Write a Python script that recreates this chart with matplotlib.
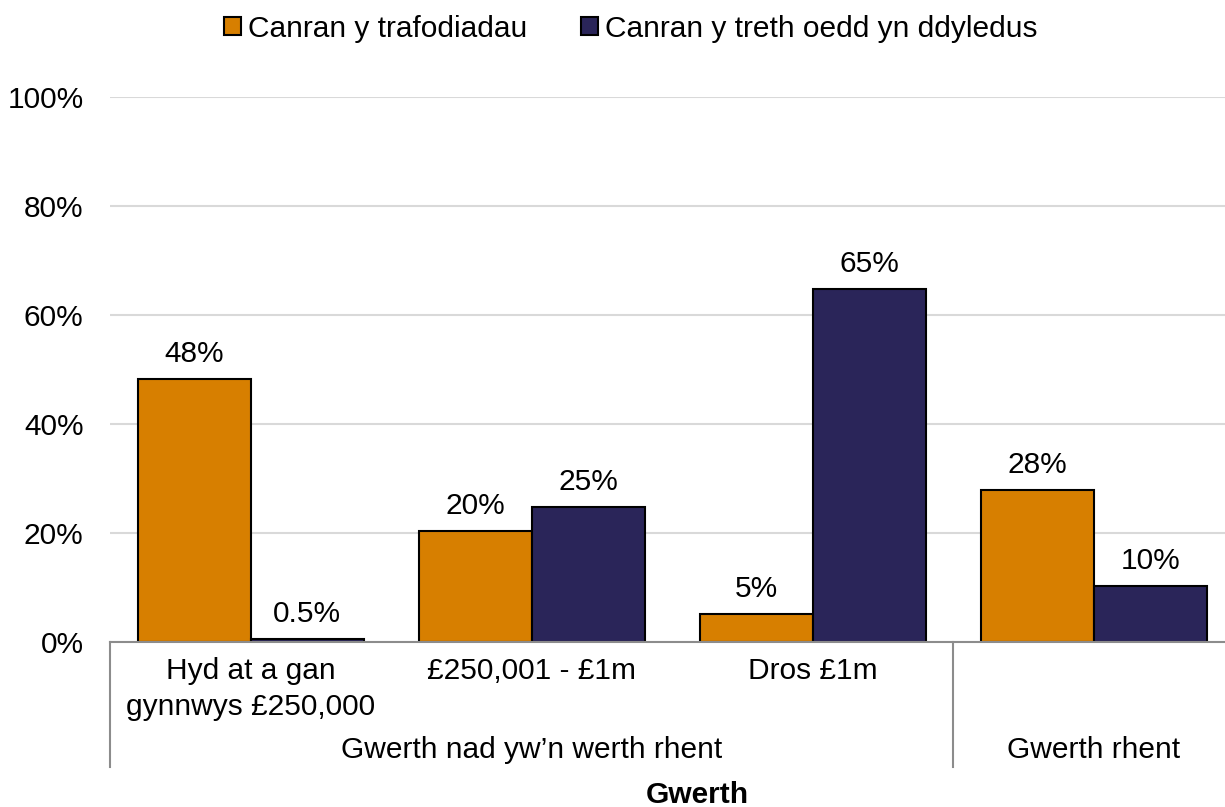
import matplotlib.pyplot as plt
import matplotlib.transforms as mtransforms
import numpy as np

plt.rcParams['font.family'] = ['Liberation Sans', 'DejaVu Sans']

# data
categories = ["Hyd at a gan\ngynnwys £250,000", "£250,001 - £1m", "Dros £1m", ""]
groups = ["Gwerth nad yw\u2019n werth rhent", "Gwerth rhent"]
trans_pct = [48.3, 20.3, 5.2, 27.9]
tax_pct = [0.5, 24.7, 64.8, 10.2]
trans_labels = ["48%", "20%", "5%", "28%"]
tax_labels = ["0.5%", "25%", "65%", "10%"]
series_names = ["Canran y trafodiadau", "Canran y treth oedd yn ddyledus"]

orange = "#D77F00"
navy = "#2A2559"
fs = 21.5

W, H = 1225, 807
fig = plt.figure(figsize=(W / 100, H / 100), dpi=100)
ax = fig.add_axes([110 / W, 1 - 642 / H, 1 - 110 / W, (642 - 97) / H])

x = np.arange(len(categories))
bw = 0.402
b1 = ax.bar(x - bw / 2, trans_pct, bw, color=orange, edgecolor="black", linewidth=1.5,
            label=series_names[0], zorder=3)
b2 = ax.bar(x + bw / 2, tax_pct, bw, color=navy, edgecolor="black", linewidth=1.5,
            label=series_names[1], zorder=3)

for bars, labs in ((b1, trans_labels), (b2, tax_labels)):
    for r, lab in zip(bars, labs):
        ax.annotate(lab, (r.get_x() + r.get_width() / 2, r.get_height()),
                    xytext=(0, 8), textcoords="offset points",
                    ha="center", va="bottom", fontsize=fs)

# axis spans 110..1225 px, categories are 281 px apart
ax.set_xlim(-0.5, 3.466)
ax.set_ylim(0, 100)
ax.set_yticks(range(0, 101, 20))
ax.set_yticklabels([f"{v}%" for v in range(0, 101, 20)], fontsize=fs)
ax.tick_params(axis="y", length=0, pad=19)
ax.yaxis.grid(True, color="#d9d9d9", linewidth=1.5, zorder=0)
ax.set_axisbelow(True)
for s in ["top", "right", "left"]:
    ax.spines[s].set_visible(False)
ax.spines["bottom"].set_color("#8c8c8c")
ax.spines["bottom"].set_linewidth(1.5)
ax.spines["bottom"].set_zorder(4)

ax.set_xticks([])
tr = mtransforms.blended_transform_factory(ax.transData, ax.transAxes)
ah = 642 - 97
for c, lab in zip(x, categories):
    ax.text(c, -(657 - 642) / ah, lab, transform=tr, ha="center", va="top",
            fontsize=fs, linespacing=1.35)

# group separators and labels
for xs in (-0.5, 2.5):
    ax.plot([xs, xs], [0, -(767 - 642) / ah], transform=tr, color="#8c8c8c",
            linewidth=1.5, clip_on=False)
ax.text(1, -(750 - 642) / ah, groups[0], transform=tr, ha="center", va="center", fontsize=fs)
ax.text(3, -(750 - 642) / ah, groups[1], transform=tr, ha="center", va="center", fontsize=fs)

fig.text(697 / W, 1 - 795 / H, "Gwerth", ha="center", va="center", fontsize=fs, weight="bold")

fig.legend(loc="center", bbox_to_anchor=(631 / W, 1 - 29 / H), ncol=2, frameon=False,
           fontsize=fs, handlelength=0.55, handleheight=0.55, handletextpad=0.25,
           columnspacing=1.8, borderaxespad=0)

fig.savefig("out.png", dpi=100)
